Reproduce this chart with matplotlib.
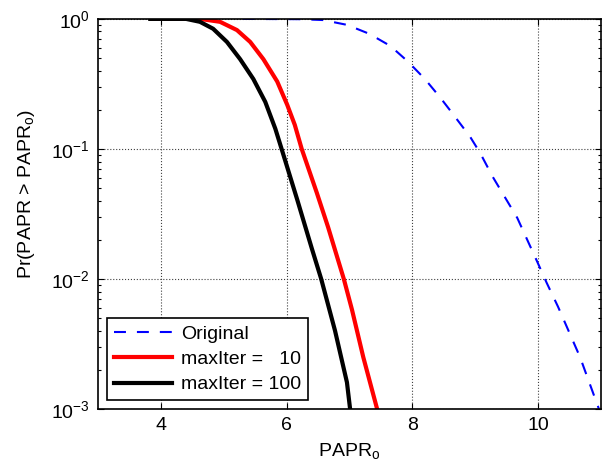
import numpy as np
import matplotlib
matplotlib.use("Agg")
import matplotlib.pyplot as plt
from matplotlib.ticker import LogLocator, NullFormatter

plt.rcParams['font.family'] = ['Liberation Sans', 'DejaVu Sans']
plt.rcParams['mathtext.fontset'] = 'custom'
plt.rcParams['mathtext.rm'] = 'Liberation Sans'
plt.rcParams['mathtext.it'] = 'Liberation Sans'
plt.rcParams['mathtext.default'] = 'regular'

# CCDF curves
orig_x = [5.3, 6.21, 6.58, 6.96, 7.31, 7.65, 7.93, 8.20, 8.44, 8.63, 8.92, 9.08,
          9.28, 9.67, 9.99, 10.14, 10.32, 10.67, 10.91, 10.97]
orig_y = [1.0, 0.995, 0.98, 0.9, 0.77, 0.62, 0.47, 0.345, 0.25, 0.19, 0.124, 0.093,
          0.061, 0.0295, 0.0135, 0.0093, 0.0061, 0.0025, 0.0012, 0.001]

it10_x = [3.85, 4.62, 4.94, 5.21, 5.42, 5.63, 5.85, 6.01, 6.13, 6.24, 6.48, 6.66,
          6.91, 7.04, 7.22, 7.44]
it10_y = [1.0, 1.0, 0.95, 0.82, 0.665, 0.49, 0.33, 0.218, 0.153, 0.1, 0.046, 0.025,
          0.01, 0.0058, 0.0025, 0.001]

it100_x = [3.83, 4.4, 4.62, 4.83, 5.05, 5.26, 5.47, 5.66, 5.82, 5.92, 6.17, 6.40,
           6.55, 6.77, 6.96, 7.01]
it100_y = [1.0, 1.0, 0.95, 0.84, 0.665, 0.49, 0.345, 0.23, 0.143, 0.1, 0.0405,
           0.0172, 0.01, 0.004, 0.0016, 0.001]

labels = ['Original', 'maxIter =   10', 'maxIter = 100']
xticks = [4, 6, 8, 10]

fig = plt.figure(figsize=(6.02, 4.61), dpi=100)
ax = fig.add_axes([0.163, 0.113, 0.835, 0.846])

lw_d = 1.5
ax.semilogy(orig_x, orig_y, color='#0000ff', lw=lw_d,
            linestyle=(0, (8.6 / lw_d, 7.9 / lw_d)), label=labels[0])
ax.semilogy(it10_x, it10_y, color='#ff0000', lw=3, label=labels[1])
ax.semilogy(it100_x, it100_y, color='k', lw=3, label=labels[2])

ax.set_xlim(3, 11)
ax.set_ylim(1e-3, 1)
ax.set_xticks(xticks)
ax.yaxis.set_major_locator(LogLocator(base=10))
ax.yaxis.set_minor_locator(LogLocator(base=10, subs=np.arange(2, 10)))
ax.yaxis.set_minor_formatter(NullFormatter())

ax.grid(True, which='major', linestyle=':', color='0.25', lw=0.8)
ax.tick_params(which='both', direction='in', top=True, right=True, labelsize=14)
ax.tick_params(which='major', length=4, width=0.8, pad=6)
ax.tick_params(which='minor', length=2.5, width=0.8)
for s in ax.spines.values():
    s.set_linewidth(1.2)

ax.set_xlabel(r'PAPR$_o$', fontsize=14, labelpad=5)
ax.set_ylabel(r'Pr(PAPR > PAPR$_o$)', fontsize=14)
ax.yaxis.set_label_coords(-0.122, 0.55)

leg = ax.legend(loc='lower left', fontsize=14, fancybox=False, framealpha=1,
                edgecolor='k', borderaxespad=0.45, handlelength=3.0,
                handletextpad=0.45, labelspacing=0.4, borderpad=0.35)
leg.get_frame().set_linewidth(1.2)

fig.savefig('out.png', dpi=100)
